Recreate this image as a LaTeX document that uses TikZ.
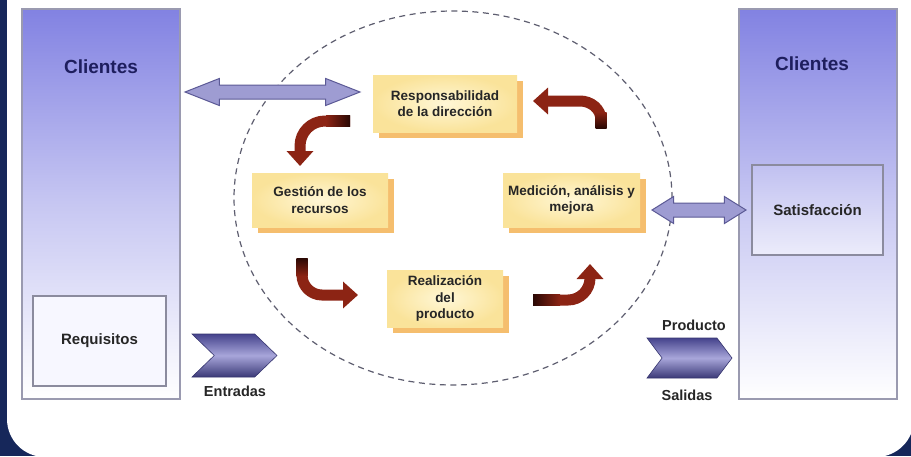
\documentclass[tikz,border=0pt]{standalone}
\usepackage{fontspec}
\setmainfont{Liberation Sans}
\usepackage{xcolor}
\usepackage{tikz}
\usetikzlibrary{shapes.geometric, shapes.arrows, shapes.symbols, arrows.meta, shadows, positioning, calc}

\definecolor{frameblue}{HTML}{16275A}
\definecolor{colortop}{HTML}{8282E2}
\definecolor{colorborder}{HTML}{9A9AB0}
\definecolor{navytext}{HTML}{1E1E5E}
\definecolor{boxyellow}{HTML}{FAE39A}
\definecolor{boxlight}{HTML}{FFF7D6}
\definecolor{boxshadow}{HTML}{F5BE6E}
\definecolor{arrowred}{HTML}{8C2414}
\definecolor{arrowtail}{HTML}{2A0804}
\definecolor{arrowlav}{HTML}{9E9CD2}
\definecolor{arrowedge}{HTML}{5C5A96}
\definecolor{chevdark}{HTML}{45438C}
\definecolor{chevlight}{HTML}{A8A6DA}
\definecolor{ciclogray}{HTML}{5E5E70}

\begin{document}
\begin{tikzpicture}[x=1pt, y=-1pt,
  cliente/.style={rectangle, draw=colorborder, line width=1.3pt, top color=colortop, bottom color=white, middle color=colortop!45!white, minimum width=158pt, minimum height=390pt, inner sep=0pt},
  titulo/.style={text=navytext, font=\bfseries\fontsize{19}{22}\selectfont},
  caja/.style={rectangle, draw=colorborder!90!black, line width=1.3pt, inner sep=0pt, font=\bfseries\fontsize{15}{18}\selectfont, text=black!85},
  proceso/.style={rectangle, inner sep=0pt, align=center, inner color=boxlight, outer color=boxyellow, drop shadow={shadow xshift=6pt, shadow yshift=-6pt, fill=boxshadow, opacity=1}, font=\bfseries\fontsize{13.5}{16.5}\selectfont, text=black!85},
  giro/.style={line width=11pt, draw=arrowred, -{Triangle[width=26pt, length=15pt]}},
  dobleflecha/.style={double arrow, draw=arrowedge, line width=1pt, fill=arrowlav, inner xsep=0pt, inner ysep=6.5pt, double arrow head extend=6.5pt},
  chevron/.style={signal, signal from=west, signal to=east, draw=chevdark!80!black, line width=0.6pt, top color=chevdark, bottom color=chevdark!85!black, middle color=chevlight, inner sep=0pt, minimum width=85pt},
  etiqueta/.style={font=\bfseries\fontsize{14.5}{17}\selectfont, text=black!85}
]
\useasboundingbox (0,0) rectangle (911,456);
\fill[frameblue] (0,0) rectangle (911,456);
\fill[white, rounded corners=38pt] (7,-60) rectangle (914,457);

\node (clileft) [cliente] at (101,204) {};
\node (cliright) [cliente] at (818,204) {};
\node (titleft) [titulo] at (101,67) {Clientes};
\node (titright) [titulo] at (812,64) {Clientes};
\node (req) [caja, fill=white!97!blue, minimum width=133pt, minimum height=90pt] at (99.5,341) {Requisitos};
\node (sat) [caja, top color=colortop!50!white, bottom color=colortop!15!white, minimum width=131pt, minimum height=90pt] at (817.5,210) {Satisfacción};

\node (ciclo) [ellipse, draw=ciclogray, dash pattern=on 6pt off 4.5pt, line width=1.2pt, minimum width=438pt, minimum height=374pt, inner sep=0pt] at (453,198) {};

\node (flechaizq) [dobleflecha, minimum height=175pt, double arrow tip angle=43] at (272.5,92) {};
\node (flechader) [dobleflecha, minimum height=94pt, double arrow tip angle=64] at (699,210) {};

\node (resp) [proceso, minimum width=144pt, minimum height=57pt] at (445,103.5) {Responsabilidad\\de la dirección};
\node (gest) [proceso, minimum width=136pt, minimum height=54pt] at (320,200) {Gestión de los\\recursos};
\node (medi) [proceso, minimum width=137pt, minimum height=54pt] at (571.5,200) {Medición, análisis y\\mejora};
\node (real) [proceso, minimum width=116pt, minimum height=57pt] at (445,298.5) {Realización\\del\\producto};

\coordinate (g1a) at (350,121);
\coordinate (g1b) at (300,166);
\coordinate (g2a) at (601,128);
\coordinate (g2b) at (533,101);
\coordinate (g3a) at (302,258);
\coordinate (g3b) at (358,295);
\coordinate (g4a) at (533,300);
\coordinate (g4b) at (590,264);
\draw [giro] (g1a) -- (325,121) to[out=180, in=90] (300,146) -- (g1b);
\draw [giro] (g2a) -- (601,120) to[out=90, in=0] (580,101) -- (g2b);
\draw [giro] (g3a) -- (302,275) to[out=-90, in=180] (322,295) -- (g3b);
\draw [giro] (g4a) -- (568,300) to[out=0, in=-90] (590,278) -- (g4b);
\shade [left color=arrowred, right color=arrowtail] (326,115.5) rectangle (350,126.5);
\shade [top color=arrowred, bottom color=arrowtail] (595.5,112) rectangle (606.5,128);
\shade [bottom color=arrowred, top color=arrowtail] (296.5,258) rectangle (307.5,276);
\shade [right color=arrowred, left color=arrowtail] (533,294.5) rectangle (560,305.5);

\node (entr) [chevron, minimum height=43pt, signal pointer angle=88] at (234.5,355.5) {};
\node (sali) [chevron, minimum height=40pt, signal pointer angle=106] at (689.5,358) {};
\node (entrtxt) [etiqueta] at (235,391) {Entradas};
\node (prodtxt) [etiqueta] at (694,325) {Producto};
\node (salitxt) [etiqueta] at (687,395) {Salidas};
\end{tikzpicture}
\end{document}
